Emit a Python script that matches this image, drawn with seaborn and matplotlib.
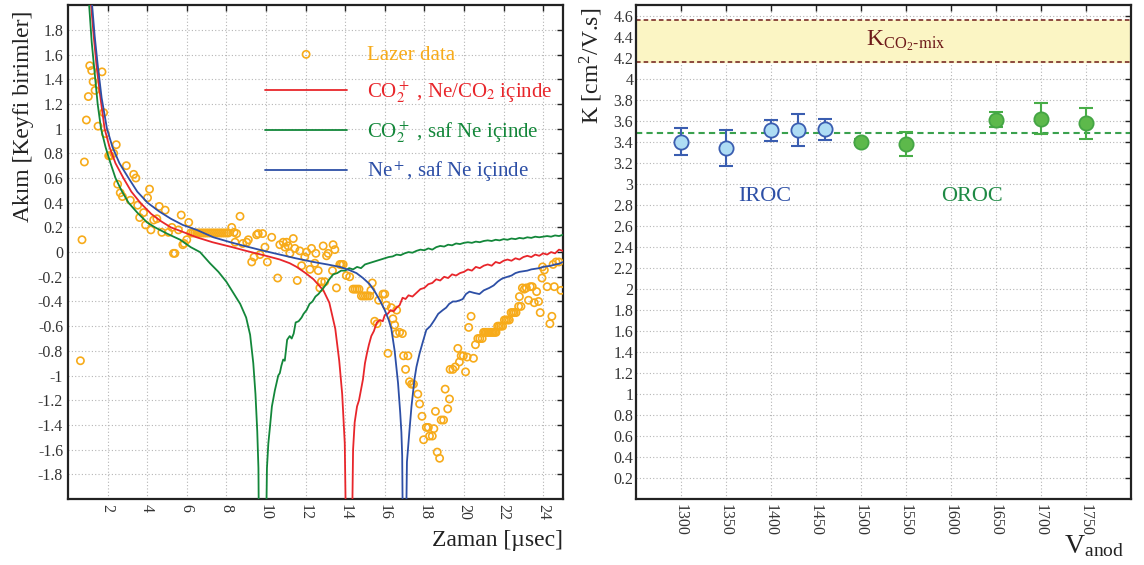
import numpy as np
import matplotlib
matplotlib.use("Agg")
import matplotlib.pyplot as plt
import seaborn as sns

# ---- left panel: current vs time ----
lazer_t = [0.63, 0.71, 0.83, 0.93, 1.03, 1.10, 1.20, 1.27, 1.37, 1.52, 1.72, 1.80, 1.89, 2.06, 2.14,
           2.31, 2.44, 2.51, 2.64, 2.75, 2.95, 3.15, 3.32, 3.43, 3.52, 3.62, 3.82, 3.92, 4.02, 4.12,
           4.19, 4.33, 4.49, 4.61, 4.74, 4.91, 5.08, 5.25, 5.33, 5.40, 5.58, 5.72, 5.80, 5.87, 6.00,
           6.10, 6.20, 6.30, 6.40, 6.50, 6.60, 6.70, 6.80, 6.90, 7.00, 7.10, 7.20, 7.30, 7.40, 7.50,
           7.60, 7.70, 7.80, 7.90, 8.00, 8.10, 8.27, 8.39, 8.52, 8.69, 8.44, 8.83, 9.03, 9.11, 9.28,
           9.40, 9.53, 9.61, 9.70, 9.83, 9.95, 10.07, 10.29, 10.59, 10.70, 10.87, 10.96, 11.04, 11.12,
           11.21, 11.38, 11.46, 11.58, 11.71, 11.80, 11.96, 12.05, 12.22, 12.30, 12.47, 12.52, 12.64,
           12.72, 12.80, 12.89, 12.97, 13.06, 13.14, 13.36, 13.39, 13.48, 13.56, 13.73, 13.81, 13.90,
           14.06, 14.23, 14.40, 14.50, 14.60, 14.70, 14.82, 14.92, 15.02, 15.12, 15.24, 15.30, 15.37,
           15.49, 15.61, 15.69, 15.91, 16.00, 16.08, 16.16, 16.33, 16.41, 16.50, 16.58, 16.60, 16.75,
           16.89, 16.95, 17.05, 17.17, 17.25, 17.35, 17.45, 17.67, 17.76, 17.88, 17.96, 18.10, 18.20,
           18.26, 18.40, 18.48, 18.56, 18.65, 18.77, 18.85, 18.97, 19.05, 19.18, 19.27, 19.30, 19.44,
           19.56, 19.69, 19.77, 19.86, 19.97, 20.08, 20.16, 20.24, 20.36, 20.48, 20.58, 20.70, 20.80,
           20.92, 20.99, 21.06, 21.13, 21.20, 21.27, 21.34, 21.41, 21.48, 21.55, 21.62, 21.70, 21.78,
           21.86, 21.95, 22.04, 22.12, 22.20, 22.29, 22.38, 22.46, 22.54, 22.63, 22.76, 22.88, 22.80,
           22.95, 23.05, 23.15, 23.26, 23.35, 23.45, 23.55, 23.67, 23.77, 23.85, 23.94, 23.97, 24.06,
           24.20, 24.34, 24.44, 24.50, 24.56, 24.65, 24.80, 24.90]
lazer_v = [-0.88, 0.10, 0.73, 1.07, 1.26, 1.51, 1.47, 1.38, 1.31, 1.02, 1.46, 1.13, 0.96, 0.78, 0.78,
           0.80, 0.87, 0.55, 0.48, 0.45, 0.70, 0.42, 0.63, 0.60, 0.38, 0.28, 0.32, 0.22, 0.44, 0.51,
           0.18, 0.26, 0.27, 0.37, 0.16, 0.34, 0.16, 0.20, -0.01, -0.01, 0.18, 0.30, 0.06, 0.07, 0.10,
           0.24, 0.155, 0.155, 0.155, 0.155, 0.155, 0.155, 0.155, 0.155, 0.155, 0.155, 0.155, 0.155, 0.155, 0.155,
           0.155, 0.155, 0.155, 0.155, 0.155, 0.155, 0.20, 0.16, 0.15, 0.29, 0.08, 0.07, 0.08, 0.10, -0.08,
           -0.04, 0.14, 0.15, -0.02, 0.15, 0.04, -0.08, 0.12, -0.21, 0.06, 0.08, 0.04, 0.08, 0.05,
           -0.01, 0.11, 0.03, -0.23, 0.01, -0.11, -0.04, 0.00, -0.14, 0.03, -0.09, -0.01, -0.15,
           -0.29, -0.24, 0.05, -0.24, -0.03, -0.01, -0.15, 0.06, 0.02, -0.29, -0.10, -0.10, -0.10,
           -0.19, -0.20, -0.30, -0.30, -0.30, -0.30, -0.355, -0.355, -0.355, -0.355, -0.355, -0.31, -0.25,
           -0.56, -0.58, -0.39, -0.34, -0.34, -0.43, -0.82, -0.45, -0.54, -0.59, -0.66, -0.47, -0.65,
           -0.66, -0.84, -0.95, -0.84, -1.05, -1.07, -1.07, -1.15, -1.23, -1.33, -1.52, -1.42, -1.42,
           -1.49, -1.49, -1.43, -1.29, -1.62, -1.67, -1.36, -1.36, -1.11, -1.27, -1.19, -0.95, -0.95,
           -0.93, -0.78, -0.89, -0.84, -0.84, -0.97, -0.85, -0.61, -0.52, -0.86, -0.75, -0.70, -0.70,
           -0.70, -0.65, -0.65, -0.65, -0.65, -0.65, -0.65, -0.65, -0.65, -0.65, -0.65, -0.60, -0.60,
           -0.60, -0.60, -0.55, -0.55, -0.55, -0.55, -0.49, -0.49, -0.49, -0.49, -0.44, -0.44, -0.36,
           -0.29, -0.30, -0.29, -0.39, -0.28, -0.28, -0.41, -0.32, -0.40, -0.49, -0.21, -0.12, -0.145,
           -0.28, -0.58, -0.52, -0.10, -0.28, -0.08, -0.08, -0.31]

# CO2+ in Ne/CO2 (red)
red_t = [1.17, 1.30, 1.45, 1.60, 1.85, 2.10, 2.40, 2.80, 3.20, 3.65, 4.20, 4.70, 5.20, 5.70, 6.50,
         7.30, 8.30, 9.00, 10.00, 10.70, 11.20, 11.55, 12.00, 12.40, 12.90, 13.20, 13.50, 13.70,
         13.85, 13.98, 14.07, 14.32, 14.40, 14.48, 14.60, 14.70, 14.90, 15.00, 15.10, 15.20, 15.32,
         15.45, 15.60, 15.75, 15.90, 16.00, 16.15, 16.30, 16.45, 16.60, 16.75, 16.90, 17.05, 17.20,
         17.40, 17.60, 17.80, 18.00, 18.20, 18.40, 18.60, 18.80, 19.00, 19.20, 19.40, 19.60, 19.80,
         20.00, 20.20, 20.40, 20.60, 20.80, 21.00, 21.20, 21.40, 21.60, 21.80, 22.00, 22.20, 22.40,
         22.60, 22.80, 23.00, 23.20, 23.40, 23.60, 23.80, 24.00, 24.20, 24.40, 24.60, 24.80, 25.00]
red_v = [2.00, 1.75, 1.50, 1.30, 1.00, 0.85, 0.72, 0.60, 0.49, 0.40, 0.31, 0.25, 0.20, 0.17, 0.12,
         0.08, 0.04, 0.01, -0.03, -0.06, -0.09, -0.12, -0.17, -0.22, -0.31, -0.41, -0.62, -0.88,
         -1.15, -1.55, -2.60, -2.60, -1.60, -1.38, -1.25, -1.20, -1.03, -0.90, -0.82, -0.75, -0.68,
         -0.64, -0.57, -0.55, -0.56, -0.51, -0.50, -0.47, -0.48, -0.45, -0.43, -0.37, -0.38, -0.35,
         -0.36, -0.33, -0.30, -0.29, -0.26, -0.25, -0.22, -0.23, -0.20, -0.21, -0.18, -0.19, -0.17,
         -0.16, -0.14, -0.15, -0.12, -0.13, -0.11, -0.10, -0.11, -0.08, -0.09, -0.07, -0.06, -0.07,
         -0.05, -0.06, -0.04, -0.03, -0.04, -0.02, -0.03, -0.01, -0.02, 0.00, -0.01, 0.02, 0.01]

# CO2+ in pure Ne (green)
green_t = [1.07, 1.20, 1.35, 1.50, 1.67, 1.90, 2.15, 2.40, 2.70, 3.06, 3.50, 4.00, 4.40, 5.00, 5.67,
           6.20, 6.67, 7.17, 7.60, 8.00, 8.35, 8.70, 9.00, 9.20, 9.36, 9.47, 9.56, 9.62, 9.66, 9.98,
           10.05, 10.12, 10.20, 10.30, 10.37, 10.45, 10.55, 10.62, 10.70, 10.78, 10.87, 10.95, 11.07,
           11.20, 11.30, 11.40, 11.50, 11.65, 11.80, 11.90, 12.05, 12.20, 12.35, 12.50, 12.65, 12.80,
           13.00, 13.20, 13.40, 13.60, 13.80, 14.00, 14.20, 14.40, 14.60, 14.80, 15.00, 15.20, 15.40,
           15.60, 15.80, 16.00, 16.20, 16.40, 16.60, 16.80, 17.00, 17.20, 17.40, 17.60, 17.80, 18.00,
           18.20, 18.40, 18.60, 18.80, 19.00, 19.20, 19.40, 19.60, 19.80, 20.00, 20.20, 20.40, 20.60,
           20.80, 21.00, 21.20, 21.40, 21.60, 21.80, 22.00, 22.20, 22.40, 22.60, 22.80, 23.00, 23.20,
           23.40, 23.60, 23.80, 24.00, 24.20, 24.40, 24.60, 24.80, 25.00]
green_v = [2.00, 1.70, 1.45, 1.20, 1.00, 0.85, 0.72, 0.60, 0.50, 0.40, 0.32, 0.24, 0.20, 0.15, 0.10,
           0.04, 0.00, -0.09, -0.16, -0.24, -0.33, -0.42, -0.53, -0.67, -0.90, -1.15, -1.45, -1.75, -2.60, -2.60,
           -1.75, -1.55, -1.42, -1.25, -1.19, -1.12, -1.05, -1.00, -0.98, -0.92, -0.87, -0.88, -0.71,
           -0.68, -0.70, -0.66, -0.57, -0.56, -0.53, -0.50, -0.47, -0.42, -0.40, -0.36, -0.34, -0.31,
           -0.27, -0.22, -0.18, -0.17, -0.15, -0.15, -0.13, -0.14, -0.12, -0.13, -0.10, -0.09, -0.08,
           -0.07, -0.06, -0.05, -0.04, -0.035, -0.02, -0.025, -0.01, 0.00, -0.005, 0.01, 0.02, 0.015,
           0.03, 0.02, 0.04, 0.05, 0.045, 0.06, 0.055, 0.07, 0.065, 0.075, 0.08, 0.075, 0.085,
           0.08, 0.09, 0.095, 0.09, 0.10, 0.095, 0.105, 0.10, 0.11, 0.105, 0.115, 0.11, 0.12,
           0.115, 0.125, 0.12, 0.125, 0.13, 0.125, 0.135, 0.13, 0.14]

# Ne+ in pure Ne (blue)
blue_t = [1.22, 1.35, 1.50, 1.70, 1.97, 2.25, 2.60, 3.06, 3.50, 4.02, 4.60, 5.20, 5.80, 6.50, 7.35,
          8.20, 9.03, 9.90, 10.70, 11.50, 12.40, 13.10, 13.73, 14.20, 14.57, 14.90, 15.24, 15.50,
          15.75, 16.00, 16.20, 16.33, 16.50, 16.67, 16.78, 16.84, 16.88, 16.93, 17.05, 17.12, 17.25,
          17.35, 17.50, 17.60, 17.76, 17.90, 18.10, 18.30, 18.51, 18.70, 18.93, 19.10, 19.25, 19.44,
          19.60, 19.80, 19.94, 20.10, 20.28, 20.50, 20.78, 21.00, 21.28, 21.50, 21.70, 21.87, 22.00,
          22.20, 22.40, 22.60, 22.80, 23.00, 23.20, 23.40, 23.60, 23.80, 24.00, 24.20, 24.40, 24.60,
          24.80, 25.00]
blue_v = [2.00, 1.75, 1.52, 1.25, 1.00, 0.85, 0.72, 0.60, 0.49, 0.40, 0.33, 0.27, 0.22, 0.18, 0.12,
          0.08, 0.045, 0.01, -0.02, -0.05, -0.08, -0.10, -0.12, -0.145, -0.17, -0.21, -0.26, -0.32,
          -0.39, -0.47, -0.55, -0.62, -0.80, -1.06, -1.30, -1.46, -1.65, -2.60, -2.60, -1.70, -1.44,
          -1.25, -1.03, -0.93, -0.82, -0.74, -0.63, -0.60, -0.55, -0.50, -0.47, -0.45, -0.42, -0.40,
          -0.40, -0.39, -0.38, -0.34, -0.32, -0.33, -0.34, -0.31, -0.29, -0.27, -0.24, -0.22, -0.21,
          -0.20, -0.19, -0.17, -0.16, -0.155, -0.15, -0.14, -0.135, -0.13, -0.12, -0.115, -0.11, -0.10,
          -0.095, -0.08]

# ---- right panel: mobility vs anode voltage ----
iroc_v = [1300, 1350, 1400, 1430, 1460]
iroc_k = [3.40, 3.34, 3.51, 3.51, 3.52]
iroc_err = [0.13, 0.17, 0.10, 0.15, 0.10]
oroc_v = [1500, 1550, 1650, 1700, 1750]
oroc_k = [3.40, 3.38, 3.61, 3.62, 3.575]
oroc_err = [0.03, 0.115, 0.07, 0.15, 0.145]
k_mean = 3.485
k_mix_low, k_mix_high = 4.16, 4.56

sns.set_theme(style="white")
plt.rcParams['font.family'] = ['Liberation Serif', 'DejaVu Serif']
plt.rcParams['mathtext.fontset'] = 'stix'
plt.rcParams['axes.unicode_minus'] = False

fig = plt.figure(figsize=(11.44, 5.65), dpi=100)
ax1 = fig.add_axes([0.0594, 0.1168, 0.4327, 0.874])
ax2 = fig.add_axes([0.556, 0.1168, 0.4327, 0.874])

ORANGE = '#f7ab1a'
RED = '#e8262b'
GREEN = '#13873a'
BLUE = '#2d4fa6'


def style_axes(ax):
    for s in ax.spines.values():
        s.set_color('#222222')
        s.set_linewidth(1.6)
    ax.grid(True, color='#b5b5b5', linestyle=(0, (1, 2)), linewidth=0.8)
    ax.tick_params(direction='in', top=True, right=True, length=4, width=1.0,
                   color='#222222', labelsize=11.5, labelcolor='#333333')
    for lab in ax.get_xticklabels():
        lab.set_rotation(270)
    ax.yaxis.set_major_formatter(matplotlib.ticker.FormatStrFormatter('%g'))
    ax.xaxis.set_major_formatter(matplotlib.ticker.FormatStrFormatter('%g'))


# left panel
sns.scatterplot(x=lazer_t, y=lazer_v, ax=ax1, marker='o', s=27, facecolors='none',
                edgecolor=ORANGE, linewidth=1.2, label='Lazer data', zorder=3)
sns.lineplot(x=red_t, y=red_v, ax=ax1, sort=False, estimator=None, color=RED, lw=1.3,
             label=r'CO$_2^+$ , Ne/CO$_2$ içinde', zorder=4)
sns.lineplot(x=green_t, y=green_v, ax=ax1, sort=False, estimator=None, color=GREEN, lw=1.3,
             label=r'CO$_2^+$ , saf Ne içinde', zorder=4)
sns.lineplot(x=blue_t, y=blue_v, ax=ax1, sort=False, estimator=None, color=BLUE, lw=1.3,
             label=r'Ne$^+$, saf Ne içinde', zorder=4)
ax1.set_xlim(0, 25)
ax1.set_ylim(-2, 2)
ax1.set_xticks(np.arange(2, 25, 2))
ax1.set_yticks(np.round(np.arange(-1.8, 1.81, 0.2), 1) + 0.0)
style_axes(ax1)
ax1.set_xlabel('Zaman [µsec]', fontsize=17, loc='right', color='#222222')
ax1.xaxis.set_label_coords(1.0, -0.062)
ax1.set_ylabel('Akım [Keyfi birimler]', fontsize=17, loc='top', color='#222222')
ax1.yaxis.set_label_coords(-0.068, 0.99)

leg = ax1.legend(loc='upper left', bbox_to_anchor=(0.378, 0.94), frameon=False, fontsize=15,
                 handlelength=3.9, handletextpad=0.95, borderpad=0, labelspacing=0.7,
                 markerscale=1.0)
for txt, col in zip(leg.get_texts(), [ORANGE, RED, GREEN, BLUE]):
    txt.set_color(col)

# right panel
ax2.axhspan(k_mix_low, k_mix_high, color='#fbf5c4', zorder=1)
ax2.axhline(k_mix_low, color='#6e1a1a', ls=(0, (3, 2)), lw=1.1, zorder=2)
ax2.axhline(k_mix_high, color='#6e1a1a', ls=(0, (3, 2)), lw=1.1, zorder=2)
ax2.axhline(k_mean, color='#3aa14e', ls=(0, (3, 2)), lw=1.5, zorder=2)
ax2.text(1550, 4.36, r'K$_{\mathregular{CO_2}\text{-mix}}$', color='#6e1a1a', fontsize=17,
         ha='center', va='center')
ax2.errorbar(iroc_v, iroc_k, yerr=iroc_err, fmt='none', ecolor='#3a5db0', elinewidth=1.5,
             capsize=5, capthick=1.5, zorder=3)
ax2.errorbar(oroc_v, oroc_k, yerr=oroc_err, fmt='none', ecolor='#47ad47', elinewidth=1.5,
             capsize=5, capthick=1.5, zorder=3)
sns.scatterplot(x=iroc_v, y=iroc_k, ax=ax2, s=105, color='#aedcf4', edgecolor='#3a5db0',
                linewidth=1.3, zorder=4, legend=False)
sns.scatterplot(x=oroc_v, y=oroc_k, ax=ax2, s=105, color='#5db94b', edgecolor='#44a544',
                linewidth=1.3, zorder=4, legend=False)
ax2.text(1393, 2.88, 'IROC', color='#2d4fa6', fontsize=16, ha='center', va='center')
ax2.text(1623, 2.88, 'OROC', color='#1f8a45', fontsize=16, ha='center', va='center')
ax2.set_xlim(1250, 1800)
ax2.set_ylim(0, 4.7)
ax2.set_xticks(np.arange(1300, 1751, 50))
ax2.set_yticks(np.round(np.arange(0.2, 4.61, 0.2), 1) + 0.0)
style_axes(ax2)
ax2.tick_params(axis='y', pad=2)
ax2.set_xlabel(r'V$_{\mathregular{anod}}$', fontsize=20, loc='right', color='#222222')
ax2.xaxis.set_label_coords(0.985, -0.07)
ax2.set_ylabel(r'K [cm$^{\mathregular{2}}$/V.s]', fontsize=17, loc='top', color='#222222')
ax2.yaxis.set_label_coords(-0.062, 0.995)

fig.savefig('out.png', dpi=100)
